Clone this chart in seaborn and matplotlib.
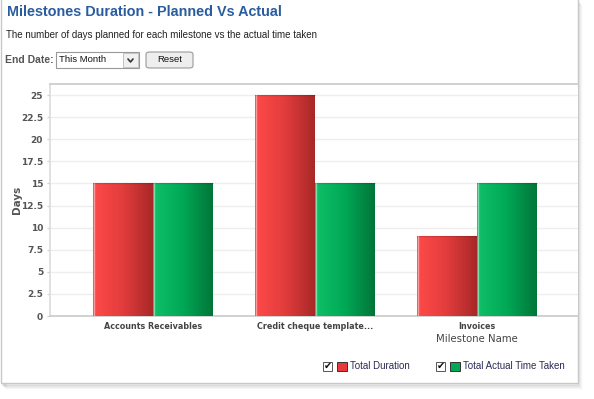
import numpy as np
import pandas as pd
import matplotlib
matplotlib.use("Agg")
import matplotlib.pyplot as plt
import seaborn as sns
from matplotlib.patches import Rectangle, FancyBboxPatch
from matplotlib.colors import LinearSegmentedColormap

# ---- data ----
milestones = ["Accounts Receivables", "Credit cheque template...", "Invoices"]
total_duration = [15, 25, 9]
total_actual = [15, 15, 15]
series_names = ["Total Duration", "Total Actual Time Taken"]
y_ticks = [0, 2.5, 5, 7.5, 10, 12.5, 15, 17.5, 20, 22.5, 25]
y_tick_labels = ["0", "2.5", "5", "7.5", "10", "12.5", "15", "17.5", "20", "22.5", "25"]

df = pd.DataFrame({
    "Milestone": milestones * 2,
    "Series": [series_names[0]] * 3 + [series_names[1]] * 3,
    "Days": total_duration + total_actual,
})

W, H = 594, 399
sns.set_theme(style="white")
plt.rcParams["font.family"] = ["DejaVu Sans"]
fig = plt.figure(figsize=(W / 100, H / 100), dpi=100)
fig.patch.set_facecolor("white")

def fx(x):
    return x / W

def fy(y):
    return 1 - y / H

# panel shadow and border
for i, a in enumerate([0.10, 0.07, 0.05, 0.03, 0.015]):
    fig.patches.append(Rectangle((fx(2 + i + 1), fy(384 + i + 1)), fx(577 - 2), fy(0) - fy(383),
                                 transform=fig.transFigure, facecolor="none",
                                 edgecolor=(0, 0, 0, a), lw=1.2, zorder=-3))
fig.patches.append(Rectangle((fx(1), fy(383)), fx(577), fy(0) - fy(383) + 0.01,
                             transform=fig.transFigure, facecolor="white",
                             edgecolor="#c8c8c8", lw=1.0, zorder=-2))

# axes
ax = fig.add_axes([fx(50), fy(316), fx(578 - 50), fy(84) - fy(316)])
ax.set_zorder(1)
sns.barplot(data=df, x="Milestone", y="Days", hue="Series", ax=ax,
            palette=["#e83a3a", "#00a050"], width=0.74, legend=False,
            edgecolor="none", saturation=1, zorder=2)

cmaps = {
    0: LinearSegmentedColormap.from_list("r", ["#ff4a4a", "#e23c3c", "#a82828"]),
    1: LinearSegmentedColormap.from_list("g", ["#10c068", "#00a856", "#007538"]),
}
grad = np.linspace(0, 1, 256).reshape(1, -1)
bars = [p for p in ax.patches if isinstance(p, Rectangle)]
for idx, p in enumerate(bars):
    s = 0 if idx < len(milestones) else 1
    x0, y0 = p.get_x(), p.get_y()
    w, h = p.get_width(), p.get_height()
    im = ax.imshow(grad, extent=[x0, x0 + w, y0, y0 + h], aspect="auto",
                   cmap=cmaps[s], zorder=3, interpolation="bicubic")
    im.set_clip_path(p)
    ax.plot([x0 + 0.004, x0 + 0.004], [y0, y0 + h], color="white", alpha=0.45, lw=1, zorder=4)
    ax.plot([x0, x0 + w], [y0 + h, y0 + h], color="black", alpha=0.12, lw=1, zorder=4)

ax.set_xlim(-0.636, 2.623)
ax.set_ylim(0, 26.25)
ax.set_yticks(y_ticks)
ax.set_yticklabels(y_tick_labels, fontsize=6.5, fontweight="bold", color="#555555")
ax.tick_params(axis="y", length=2, width=0.8, color="#cccccc", pad=3, left=True)
ax.tick_params(axis="x", length=0, pad=4)
for lbl in ax.get_xticklabels():
    lbl.set_fontsize(5.8)
    lbl.set_fontweight("bold")
    lbl.set_color("#444444")
ax.yaxis.grid(True, color="#eeeeee", lw=1, zorder=0)
ax.set_axisbelow(True)
ax.spines["right"].set_visible(False)
ax.spines["top"].set_color("#cccccc")
ax.spines["left"].set_color("#dddddd")
ax.spines["bottom"].set_color("#cccccc")
ax.set_xlabel("")
ax.set_ylabel("")
ax.set_facecolor("white")

# axis titles
fig.text(fx(17), fy(200), "Days", rotation=90, ha="center", va="center",
         fontsize=7.5, fontweight="bold", color="#555555")
fig.text(fx(477), fy(339), "Milestone Name", ha="center", va="center",
         fontsize=7.3, color="#444444")

# title / subtitle
fig.text(fx(7), fy(12), "Milestones Duration - Planned Vs Actual", ha="left", va="center",
         fontsize=10.4, fontweight="bold", color="#2a5d9f", family="Liberation Sans")
fig.text(fx(6), fy(35), "The number of days planned for each milestone vs the actual time taken",
         ha="left", va="center", fontsize=7.0, color="#222222", family="Liberation Sans")

# controls
fig.text(fx(5), fy(60), "End Date:", ha="left", va="center", fontsize=7.5,
         fontweight="bold", color="#555555", family="Liberation Sans")
fig.patches.append(Rectangle((fx(56), fy(68)), fx(139 - 56), fy(52) - fy(68),
                             transform=fig.transFigure, facecolor="white",
                             edgecolor="#999999", lw=0.8, zorder=2))
fig.patches.append(Rectangle((fx(123), fy(67)), fx(138 - 123), fy(53) - fy(67),
                             transform=fig.transFigure, facecolor="#f0f0f0",
                             edgecolor="#bbbbbb", lw=0.6, zorder=2))
fig.text(fx(59), fy(60), "This Month", ha="left", va="center", fontsize=6.8,
         color="#111111", family="Liberation Sans")
fig.lines.append(plt.Line2D([fx(128), fx(130.5), fx(133)], [fy(59), fy(62), fy(59)],
                            transform=fig.transFigure, color="#333333", lw=1.2, zorder=5))
fig.patches.append(FancyBboxPatch((fx(146), fy(68)), fx(193 - 146), fy(52) - fy(68),
                                  boxstyle="round,pad=0,rounding_size=0.006",
                                  transform=fig.transFigure, facecolor="#eeeeee",
                                  edgecolor="#999999", lw=0.8, zorder=2))
fig.text(fx(169.5), fy(60), "Reset", ha="center", va="center", fontsize=6.8,
         color="#111111", family="Liberation Sans")

# legend
leg_items = [(323, "#e83a3a", series_names[0]), (436, "#00a858", series_names[1])]
for x, col, name in leg_items:
    fig.patches.append(Rectangle((fx(x), fy(371)), fx(9), fy(362) - fy(371),
                                 transform=fig.transFigure, facecolor="white",
                                 edgecolor="#555555", lw=0.7, zorder=2))
    fig.text(fx(x + 5), fy(366), "\u2714", ha="center", va="center", fontsize=7,
             color="#111111", zorder=3)
    fig.patches.append(Rectangle((fx(x + 14), fy(371)), fx(10), fy(362) - fy(371),
                                 transform=fig.transFigure, facecolor=col,
                                 edgecolor="#333333", lw=0.7, zorder=2))
    fig.text(fx(x + 27), fy(366), name, ha="left", va="center", fontsize=7,
             color="#2b2b55", family="Liberation Sans")

fig.savefig("out.png", dpi=100, facecolor="white")
